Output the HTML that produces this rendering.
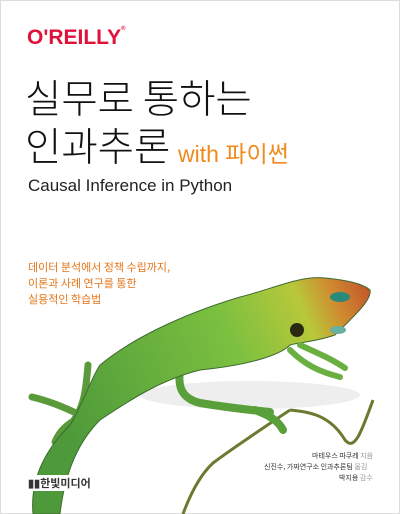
<!DOCTYPE html>
<html><head><meta charset="utf-8"><style>
body{margin:0;width:400px;height:514px;background:#fff;overflow:hidden;position:relative;font-family:"Liberation Sans","Noto Sans CJK KR",sans-serif}
.frame{position:absolute;left:0;top:0;width:398px;height:512px;border:1px solid #ddd}
.t{position:absolute;white-space:nowrap}
</style></head><body>
<div class="frame"></div>
<div class="t" style="left:27px;top:26px;font-size:21px;font-weight:bold;color:#e0113a">O'REILLY<span style="font-size:6px;vertical-align:top">®</span></div>
<div class="t" style="left:25px;top:68px;font-size:39.5px;color:#111;font-family:'Noto Sans CJK KR',sans-serif;font-weight:300">실무로 통하는</div>
<div class="t" style="left:25px;top:116px;font-size:39.5px;color:#111;font-family:'Noto Sans CJK KR',sans-serif;font-weight:300">인과추론</div>
<div class="t" style="left:178px;top:135px;font-size:23px;color:#f08a1c;font-family:'Liberation Sans','Noto Sans CJK KR',sans-serif">with 파이썬</div>
<div class="t" style="left:28px;top:176px;font-size:17px;color:#222">Causal Inference in Python</div>
<div class="t" style="left:28px;top:259px;font-size:11px;line-height:16px;color:#e6761a;font-family:'Noto Sans CJK KR',sans-serif">데이터 분석에서 정책 수립까지,<br>이론과 사례 연구를 통한<br>실용적인 학습법</div>
<svg class="t" style="left:0;top:0" width="400" height="514">
<defs><linearGradient id="g" x1="0" x2="1" y1="0.3" y2="0"><stop offset="0" stop-color="#4e9a3a"/><stop offset="0.55" stop-color="#7cc040"/><stop offset="0.78" stop-color="#b8c83a"/><stop offset="0.88" stop-color="#d08a30"/><stop offset="1" stop-color="#c0502a"/></linearGradient></defs>
<ellipse cx="250" cy="395" rx="110" ry="14" fill="#eee"/>
<path d="M290 410 C310 412 330 415 345 440 C355 452 362 430 373 400 M290 410 C260 430 230 450 213 463 C200 475 190 495 183 514" stroke="#6a7a30" stroke-width="3" fill="none"/>
<path d="M88 365 C86 390 84 410 70 425 M80 415 C60 405 45 400 32 397 M75 420 C62 428 58 435 55 442" stroke="#5a9a3a" stroke-width="7" fill="none" stroke-linecap="round"/>
<path d="M180 370 C178 385 180 398 200 403 C230 408 250 410 270 412 M255 410 C268 415 278 420 283 430" stroke="#5aa03a" stroke-width="8" fill="none" stroke-linecap="round"/>
<path d="M33 514 C30 480 45 450 70 425 C85 400 90 380 100 365 C130 340 180 315 240 297 C270 290 300 275 325 278 C345 280 362 283 370 290 C372 300 355 315 335 335 C315 342 300 342 290 345 C280 355 250 365 200 370 C160 380 130 400 100 420 C80 440 65 470 60 514 Z" fill="url(#g)" stroke="#3d6a30" stroke-width="1"/>
<path d="M290 350 C305 365 320 372 340 377 M300 345 C315 352 330 358 345 368" stroke="#6ab040" stroke-width="6" fill="none" stroke-linecap="round"/>
<circle cx="297" cy="330" r="7" fill="#2a2a10"/>
<ellipse cx="340" cy="297" rx="10" ry="5" fill="#2a8a7a"/>
<ellipse cx="338" cy="330" rx="8" ry="4" fill="#6ab0a0"/>
</svg>
<div class="t" style="left:312px;top:451px;font-size:7px;color:#333;font-family:'Noto Sans CJK KR',sans-serif">마테우스 파쿠레 <span style="color:#999">지음</span></div>
<div class="t" style="left:264px;top:462px;font-size:7px;color:#333;font-family:'Noto Sans CJK KR',sans-serif">신진수, 가짜연구소 인과추론팀 <span style="color:#999">옮김</span></div>
<div class="t" style="left:339px;top:473px;font-size:7px;color:#333;font-family:'Noto Sans CJK KR',sans-serif">박지용 <span style="color:#999">감수</span></div>
<div class="t" style="left:28px;top:475px;font-size:11px;font-weight:bold;color:#333;font-family:'Noto Sans CJK KR',sans-serif;background:#fff">▮▮한빛미디어</div>
</body></html>
